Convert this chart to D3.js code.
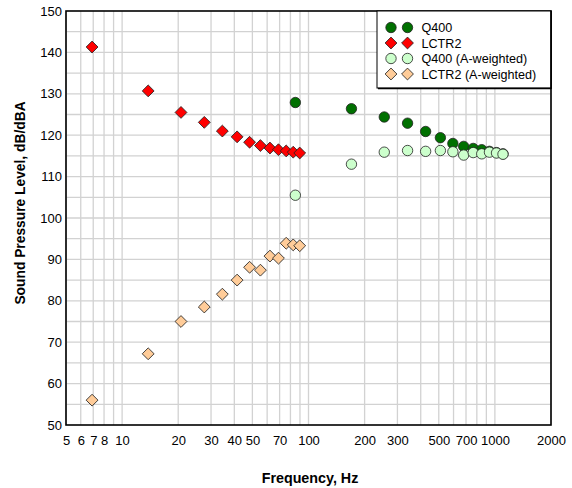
<!DOCTYPE html>
<html>
<head>
<meta charset="utf-8">
<script src="https://cdn.jsdelivr.net/npm/d3@7"></script>
<style>
  body { margin: 0; background: #fff; }
  text { font-family: "Liberation Sans", Arial, sans-serif; }
</style>
</head>
<body>
<svg id="chart" width="572" height="488"></svg>
<script>
// values
var lctrFreq = [6.9, 13.8, 20.7, 27.6, 34.5, 41.4, 48.3, 55.2, 62.1, 69, 75.9, 82.8, 89.7];
var lctrLevel = [141.3, 130.7, 125.5, 123.1, 121, 119.6, 118.3, 117.5, 116.9, 116.5, 116.2, 115.9, 115.7];
var lctrLevelA = [56, 67.2, 75, 78.5, 81.6, 85, 88.1, 87.4, 90.8, 90.3, 93.9, 93.5, 93.3];

var q400Freq = [85, 170, 255, 340, 425, 510, 595, 680, 765, 850, 935, 1020, 1105];
var q400Level = [127.9, 126.4, 124.4, 122.9, 120.9, 119.4, 118, 117.3, 116.8, 116.5, 116.1, 115.8, 115.5];
var q400LevelA = [105.5, 113, 115.9, 116.3, 116.1, 116.3, 116, 115.2, 115.8, 115.5, 115.9, 115.7, 115.4];

var xTicks = [5, 6, 7, 8, 10, 20, 30, 40, 50, 70, 100, 200, 300, 500, 700, 1000, 2000];
var xGrid = [5, 6, 7, 8, 9, 10, 20, 30, 40, 50, 60, 70, 80, 90, 100, 200, 300, 400, 500, 600, 700, 800, 900, 1000, 2000];
var yTicks = [50, 60, 70, 80, 90, 100, 110, 120, 130, 140, 150];

var plotL = 66, plotR = 551, plotT = 11, plotB = 425;

var svg = d3.select("#chart");

var xScale = d3.scaleLog().domain([5, 2000]).range([plotL, plotR]);
var yScale = d3.scaleLinear().domain([50, 150]).range([plotB, plotT]);

// grid
var grid = svg.append("g").attr("class", "grid");
grid.selectAll("line.v")
  .data(xGrid).enter()
  .append("line")
  .attr("class", "v")
  .attr("x1", function (d) { return xScale(d); })
  .attr("x2", function (d) { return xScale(d); })
  .attr("y1", plotT)
  .attr("y2", plotB)
  .attr("stroke", "#d2d2d2")
  .attr("stroke-width", 1.3);

grid.selectAll("line.h")
  .data(d3.range(55, 150, 5)).enter()
  .append("line")
  .attr("class", "h")
  .attr("x1", plotL)
  .attr("x2", plotR)
  .attr("y1", function (d) { return yScale(d); })
  .attr("y2", function (d) { return yScale(d); })
  .attr("stroke", "#d2d2d2")
  .attr("stroke-width", 1.3);

// axes (labels only, no tick marks)
var xAxis = d3.axisBottom(xScale).tickValues(xTicks).tickSize(0).tickPadding(11)
  .tickFormat(d3.format("d"));
var yAxis = d3.axisLeft(yScale).tickValues(yTicks).tickSize(0).tickPadding(4);

var gx = svg.append("g")
  .attr("transform", "translate(0," + plotB + ")")
  .call(xAxis);
gx.select(".domain").remove();
gx.selectAll("text").attr("font-size", 13).attr("fill", "#000")
  .style("font-family", "Liberation Sans, Arial, sans-serif");

var gy = svg.append("g")
  .attr("transform", "translate(" + plotL + ",0)")
  .call(yAxis);
gy.select(".domain").remove();
gy.selectAll("text").attr("font-size", 13).attr("fill", "#000")
  .style("font-family", "Liberation Sans, Arial, sans-serif");

// plot frame
svg.append("rect")
  .attr("x", plotL).attr("y", plotT)
  .attr("width", plotR - plotL).attr("height", plotB - plotT)
  .attr("fill", "none").attr("stroke", "#000").attr("stroke-width", 1.6);

// markers
var diamond = d3.symbol().type(d3.symbolSquare).size(70);
function drawCircles(freqs, vals, fill) {
  svg.append("g").selectAll("circle")
    .data(d3.zip(freqs, vals)).enter()
    .append("circle")
    .attr("cx", function (d) { return xScale(d[0]); })
    .attr("cy", function (d) { return yScale(d[1]); })
    .attr("r", 5.2)
    .attr("fill", fill)
    .attr("stroke", "#222")
    .attr("stroke-width", 0.8);
}
function drawDiamonds(freqs, vals, fill) {
  svg.append("g").selectAll("path")
    .data(d3.zip(freqs, vals)).enter()
    .append("path")
    .attr("d", diamond)
    .attr("transform", function (d) {
      return "translate(" + xScale(d[0]) + "," + yScale(d[1]) + ") rotate(45)";
    })
    .attr("fill", fill)
    .attr("stroke", "#222")
    .attr("stroke-width", 0.8);
}

drawCircles(q400Freq, q400Level, "#007000");
drawDiamonds(lctrFreq, lctrLevel, "#ff0000");
drawCircles(q400Freq, q400LevelA, "#ccffcc");
drawDiamonds(lctrFreq, lctrLevelA, "#ffcc99");

// axis titles
svg.append("text")
  .attr("x", 310)
  .attr("y", 483)
  .attr("text-anchor", "middle")
  .attr("font-size", 14.3)
  .attr("font-weight", "bold")
  .text("Frequency, Hz");

svg.append("text")
  .attr("transform", "translate(25,203) rotate(-90)")
  .attr("text-anchor", "middle")
  .attr("font-size", 13.8)
  .attr("font-weight", "bold")
  .text("Sound Pressure Level, dB/dBA");

// legend
var legend = [
  ["Q400", "circle", "#007000"],
  ["LCTR2", "diamond", "#ff0000"],
  ["Q400 (A-weighted)", "circle", "#ccffcc"],
  ["LCTR2 (A-weighted)", "diamond", "#ffcc99"]
];
var lg = svg.append("g");
lg.append("rect")
  .attr("x", 377).attr("y", plotT)
  .attr("width", plotR - 377).attr("height", 77)
  .attr("fill", "#fff").attr("stroke", "#000").attr("stroke-width", 1);
lg.append("line")
  .attr("x1", plotR).attr("x2", plotR).attr("y1", plotT).attr("y2", plotT + 78)
  .attr("stroke", "#000").attr("stroke-width", 1.6);
lg.append("line")
  .attr("x1", 378).attr("x2", plotR).attr("y1", plotT + 77.5).attr("y2", plotT + 77.5)
  .attr("stroke", "#000").attr("stroke-width", 1.6);

var rows = lg.selectAll("g.item")
  .data(legend).enter()
  .append("g")
  .attr("class", "item")
  .attr("transform", function (d, i) { return "translate(0," + (27.5 + i * 15.5) + ")"; });

[391, 407.5].forEach(function (mx) {
  rows.each(function (d) {
    var g = d3.select(this);
    if (d[1] == "circle") {
      g.append("circle").attr("cx", mx).attr("cy", 0).attr("r", 5.2)
        .attr("fill", d[2]).attr("stroke", "#222").attr("stroke-width", 0.8);
    } else {
      g.append("path").attr("d", diamond)
        .attr("transform", "translate(" + mx + ",0) rotate(45)")
        .attr("fill", d[2]).attr("stroke", "#222").attr("stroke-width", 0.8);
    }
  });
});
rows.append("text")
  .attr("x", 421.5)
  .attr("y", 0)
  .attr("dy", "0.36em")
  .attr("font-size", 12.6)
  .text(function (d) { return d[0]; });
</script>
</body>
</html>
